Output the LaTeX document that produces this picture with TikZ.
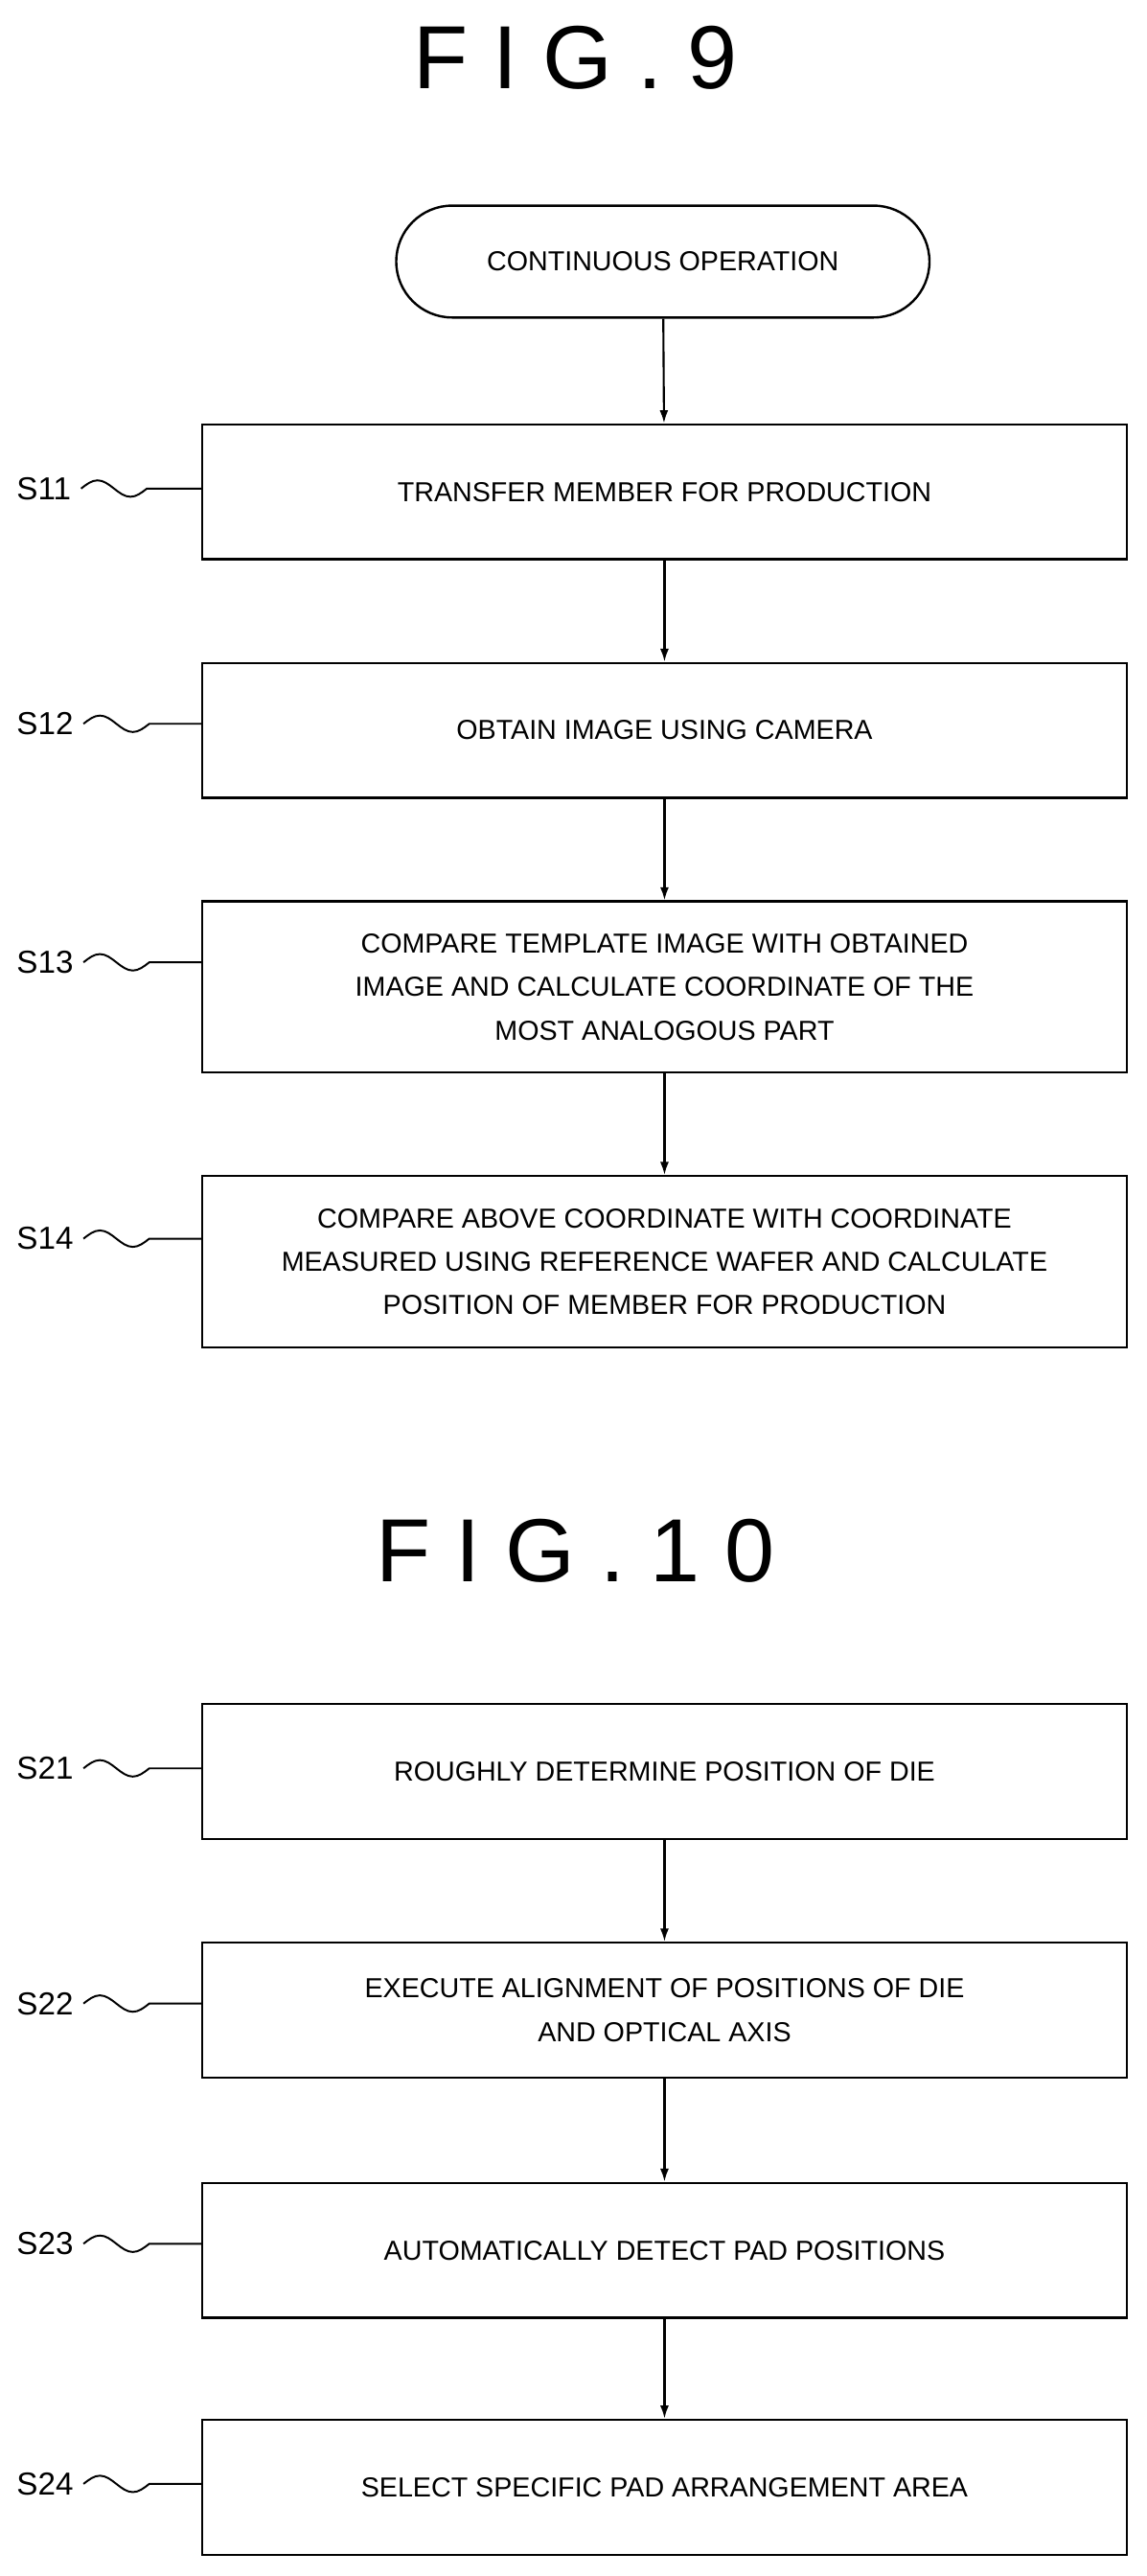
\documentclass[tikz,border=0pt]{standalone}
\usepackage{fontspec}
\setmainfont{Liberation Sans}
\usetikzlibrary{shapes.misc,arrows.meta}
\begin{document}
\begin{tikzpicture}[x=0.04cm,y=-0.04cm,
    stepbox/.style={draw, line width=1.6pt, minimum width=22.48cm, minimum height=3.28cm, align=center,
        font=\fontsize{19}{30}\selectfont, inner sep=0pt},
    tall/.style={stepbox, minimum height=4.16cm},
    term/.style={draw, line width=1.6pt, rounded rectangle, minimum width=13.2cm, minimum height=2.72cm,
        font=\fontsize{19}{30}\selectfont},
    title/.style={font=\fontsize{62}{70}\selectfont},
    lbl/.style={font=\fontsize{22}{26}\selectfont, inner sep=0pt},
    flow/.style={-{Latex[length=9pt,width=6pt]}, line width=1.4pt},
    wave/.style={line width=1.3pt}]
    \useasboundingbox (0,0) rectangle (697,1566);

    \node[title] (fig9) at (350,35) {F I G . 9};
    \node[term] (start) at (403,159) {CONTINUOUS OPERATION};
    \node[stepbox] (S11) at (404,299) {TRANSFER MEMBER FOR PRODUCTION};
    \node[stepbox] (S12) at (404,444) {OBTAIN IMAGE USING CAMERA};
    \node[tall] (S13) at (404,600) {COMPARE TEMPLATE IMAGE WITH OBTAINED\\IMAGE AND CALCULATE COORDINATE OF THE\\MOST ANALOGOUS PART};
    \node[tall] (S14) at (404,767) {COMPARE ABOVE COORDINATE WITH COORDINATE\\MEASURED USING REFERENCE WAFER AND CALCULATE\\POSITION OF MEMBER FOR PRODUCTION};

    \node[title] (fig10) at (350,943) {F I G . 1 0};
    \node[stepbox] (S21) at (404,1077) {ROUGHLY DETERMINE POSITION OF DIE};
    \node[stepbox] (S22) at (404,1222) {EXECUTE ALIGNMENT OF POSITIONS OF DIE\\AND OPTICAL AXIS};
    \node[stepbox] (S23) at (404,1368) {AUTOMATICALLY DETECT PAD POSITIONS};
    \node[stepbox] (S24) at (404,1512) {SELECT SPECIFIC PAD ARRANGEMENT AREA};

    % step labels with tilde leaders
    \foreach \s/\y in {S11/297,S12/440,S13/585,S14/753,S21/1075,S22/1218,S23/1364,S24/1510} {
        \node[lbl, anchor=west] (L-\s) at (10,\y) {\s};
        \draw[wave] (L-\s.east) ++(6,0) sin ++(10,-5) cos ++(10,5) sin ++(10,5) cos ++(10,-5) -- (\s.west |- L-\s);
    }

    \draw[flow] (start) -- (S11);
    \draw[flow] (S11) -- (S12);
    \draw[flow] (S12) -- (S13);
    \draw[flow] (S13) -- (S14);
    \draw[flow] (S21) -- (S22);
    \draw[flow] (S22) -- (S23);
    \draw[flow] (S23) -- (S24);
\end{tikzpicture}
\end{document}
